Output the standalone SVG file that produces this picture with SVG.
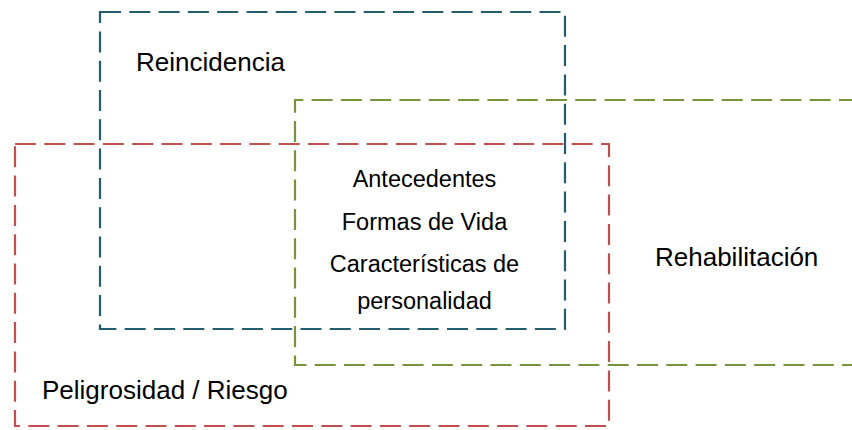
<svg xmlns="http://www.w3.org/2000/svg" width="852" height="430" viewBox="0 0 852 430">
  <style>
    .box { fill: none; stroke-width: 2.2; stroke-dasharray: 21 8.3; }
    .teal { stroke: #245E6E; }
    .red { stroke: #C0504D; }
    .green { stroke: #77933C; }
    .big { font-family: "Liberation Sans", Arial, sans-serif; font-size: 26px; fill: #000; }
    .mid { font-family: "Liberation Sans", Arial, sans-serif; font-size: 23.5px; fill: #000; text-anchor: middle; }
  </style>
  <rect width="852" height="430" fill="#fff"/>
  <g id="reincidencia">
    <rect class="box teal" x="100" y="12" width="465" height="317"/>
    <text class="big" x="136" y="71">Reincidencia</text>
  </g>
  <g id="peligrosidad">
    <rect class="box red" x="15" y="144" width="594" height="282"/>
    <text class="big" x="42" y="399">Peligrosidad / Riesgo</text>
  </g>
  <g id="rehabilitacion">
    <path class="box green" d="M860,100 H295 V365 H860"/>
    <text class="big" x="655" y="266">Rehabilitación</text>
  </g>
  <g id="interseccion">
    <text class="mid" x="424.5" y="187">Antecedentes</text>
    <text class="mid" x="424.5" y="230">Formas de Vida</text>
    <text class="mid" x="424.5" y="272">Características de</text>
    <text class="mid" x="424.5" y="309">personalidad</text>
  </g>
  <g id="connectors"></g>
</svg>
